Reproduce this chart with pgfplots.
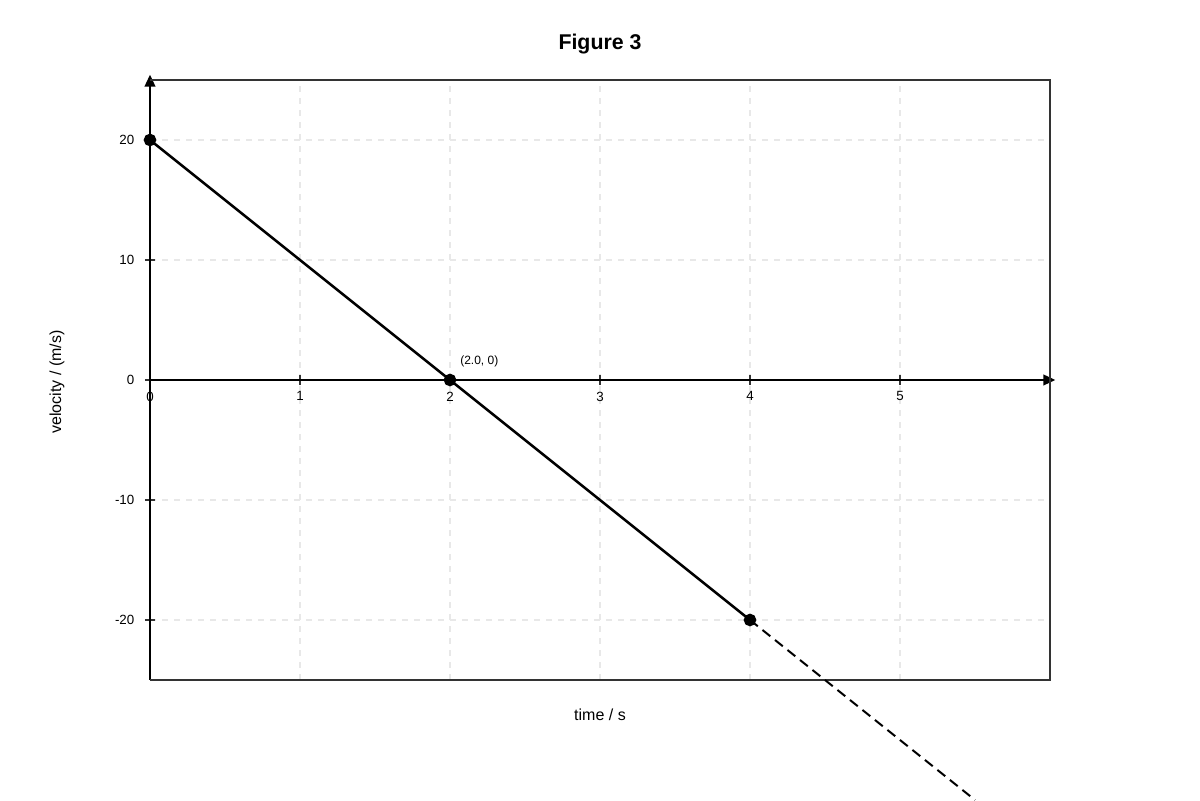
\documentclass[border=0pt]{standalone}
\usepackage{pgfplots}
\pgfplotsset{compat=1.18}
\usepackage{fontspec}
\setmainfont{Liberation Sans}
\usetikzlibrary{arrows.meta}

\definecolor{gridgray}{RGB}{232,232,232}
\definecolor{framegray}{RGB}{51,51,51}

\begin{document}
\begin{tikzpicture}
  \begin{axis}[
    width=675pt, height=450pt, scale only axis,
    xmin=0, xmax=6, ymin=-25, ymax=25,
    enlargelimits=false,
    clip=false,
    axis lines=middle,
    axis line style={black, line width=1.5pt,
      -{Triangle[length=9pt,width=8pt]}, shorten >=-4pt},
    xtick={0,1,2,3,4,5},
    ytick={-20,-10,0,10,20},
    hide obscured x ticks=false,
    hide obscured y ticks=false,
    tick align=center,
    major tick length=7.5pt,
    tick style={line width=1.1pt, color=framegray},
    grid=major,
    grid style={gridgray, line width=0.9pt, dash pattern=on 4.5pt off 4.5pt},
    /pgf/number format/assume math mode=true,
    ticklabel style={font=\fontsize{10}{12}\selectfont, text=black},
    xticklabel style={yshift=-1.5pt},
    yticklabel style={xshift=-4.5pt},
    title={Figure 3},
    title style={font=\fontsize{16}{19}\selectfont\bfseries,
      at={(axis description cs:0.5,1.0633)}, anchor=center, yshift=-7.5pt},
    xlabel={time / s},
    xlabel style={font=\fontsize{12}{14}\selectfont,
      at={(axis description cs:0.5,-0.0583)}, anchor=center},
    ylabel={velocity / (m/s)},
    ylabel style={font=\fontsize{12}{14}\selectfont,
      at={(axis description cs:-0.1033,0.4967)}, anchor=center, rotate=90},
  ]
    % frame (left side is the y axis)
    \draw[framegray, line width=1.1pt]
      (rel axis cs:0,0) -- (rel axis cs:1,0) -- (rel axis cs:1,1) -- (rel axis cs:0,1);

    % v = 20 - 10 t
    \addplot[black, line width=1.9pt, mark=*, mark size=3.75pt,
      mark options={solid, fill=black}] coordinates {
      (0,20) (2,0) (4,-20)
    };
    % extrapolation
    \addplot[black, line width=1.5pt, dash pattern=on 7.5pt off 4.5pt] coordinates {
      (4,-20) (5.5,-35)
    };

    \node[anchor=west, inner sep=0pt, font=\fontsize{9}{11}\selectfont]
      at (axis cs:2.0667,1.58) {(2.0, 0)};

    % page extent
    \path (axis cs:-1,31.6667) rectangle (axis cs:7,-35);
  \end{axis}
\end{tikzpicture}
\end{document}
